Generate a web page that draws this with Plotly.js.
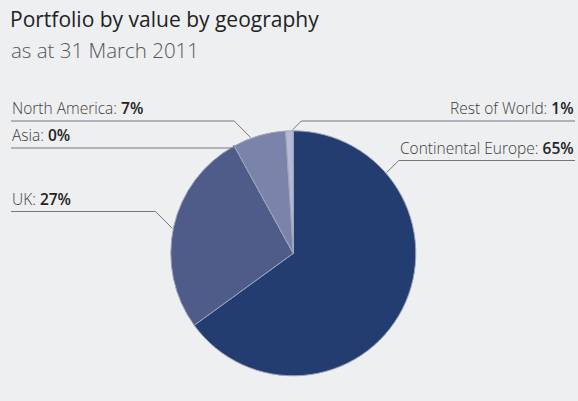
<!DOCTYPE html>
<html><head><meta charset="utf-8">
<script src="https://cdn.plot.ly/plotly-3.0.1.min.js"></script>
<style>html,body{margin:0;padding:0;background:#eeeff1;}</style>
</head><body>
<div id="chart" style="width:578px;height:401px"></div>
<script>
// ---- data ----
const regions = ['Continental Europe', 'UK', 'Asia', 'North America', 'Rest of World'];
const shares = [65, 27, 0, 7, 1];
const sliceColors = ['#243d70', '#4f5b88', '#6b75a0', '#7a84ab', '#b3b9d6'];
const titleText = 'Portfolio by value by geography';
const subtitleText = 'as at 31 March 2011';

// ---- label layout (positions, px) ----
const labelSide = ['right', 'left', 'left', 'left', 'right'];
const labelLineY = [160.5, 211.5, 148, 121, 121];
const anchorFrac = [0.21, 0.49, 0, 0.34, 0.9];

const W = 578, H = 401;
const cx = 293.3, cy = 253.3, R = 122.5;
const px2x = p => p / W;
const px2y = p => 1 - p / H;

const total = shares.reduce((a, b) => a + b, 0);
const shapes = [];
const annotations = [];
let cum = 0;
regions.forEach((name, i) => {
  const v = shares[i];
  const th = (cum + anchorFrac[i] * v) / total * 2 * Math.PI;
  cum += v;
  const ax = cx + (R + 1) * Math.sin(th);
  const ay = cy - (R + 1) * Math.cos(th);
  const ly = labelLineY[i];
  const d = Math.max(0, ay - ly);
  const left = labelSide[i] === 'left';
  const ex = left ? ax - d : ax + d;
  const x0 = left ? 11 : ex;
  const x1 = left ? ex : 575;
  const lineStyle = {color: '#6f7784', width: 1};
  shapes.push({type: 'line', xref: 'paper', yref: 'paper',
    x0: px2x(x0), x1: px2x(x1), y0: px2y(ly), y1: px2y(ly), line: lineStyle});
  shapes.push({type: 'line', xref: 'paper', yref: 'paper',
    x0: px2x(ex), x1: px2x(ax), y0: px2y(ly), y1: px2y(ay), line: lineStyle});
  annotations.push({
    xref: 'paper', yref: 'paper',
    x: px2x(left ? 11 : 575), y: px2y(ly - 1),
    xanchor: left ? 'left' : 'right', yanchor: 'bottom',
    showarrow: false, borderpad: 0,
    text: name + ': <span style="font-weight:600;fill:#222">' + v + '%</span>',
    font: {family: 'Open Sans, sans-serif', size: 15.5, color: '#3c3c3c', weight: 300}
  });
});

annotations.push({
  xref: 'paper', yref: 'paper', x: px2x(10), y: px2y(35),
  xanchor: 'left', yanchor: 'top', showarrow: false, borderpad: 0,
  text: subtitleText,
  font: {family: 'Open Sans, sans-serif', size: 20.5, color: '#555', weight: 300}
});

const trace = {
  type: 'pie',
  labels: regions,
  values: shares,
  sort: false,
  direction: 'clockwise',
  rotation: 0,
  textinfo: 'none',
  textposition: 'none',
  hoverinfo: 'label+percent',
  showlegend: false,
  marker: {colors: sliceColors, line: {color: '#9ea4ba', width: 1}},
  domain: {
    x: [px2x(cx - R), px2x(cx + R)],
    y: [px2y(cy + R), px2y(cy - R)]
  }
};

const layout = {
  width: W, height: H,
  margin: {l: 0, r: 0, t: 0, b: 0},
  paper_bgcolor: '#eeeff1',
  plot_bgcolor: '#eeeff1',
  title: {
    text: titleText,
    x: px2x(10), xanchor: 'left', xref: 'paper',
    y: 1 - 12 / H, yanchor: 'top', yref: 'container',
    font: {family: 'Open Sans, sans-serif', size: 21, color: '#222', weight: 400}
  },
  shapes: shapes,
  annotations: annotations
};

Plotly.newPlot('chart', [trace], layout, {displayModeBar: false, staticPlot: true});
</script>
</body></html>
